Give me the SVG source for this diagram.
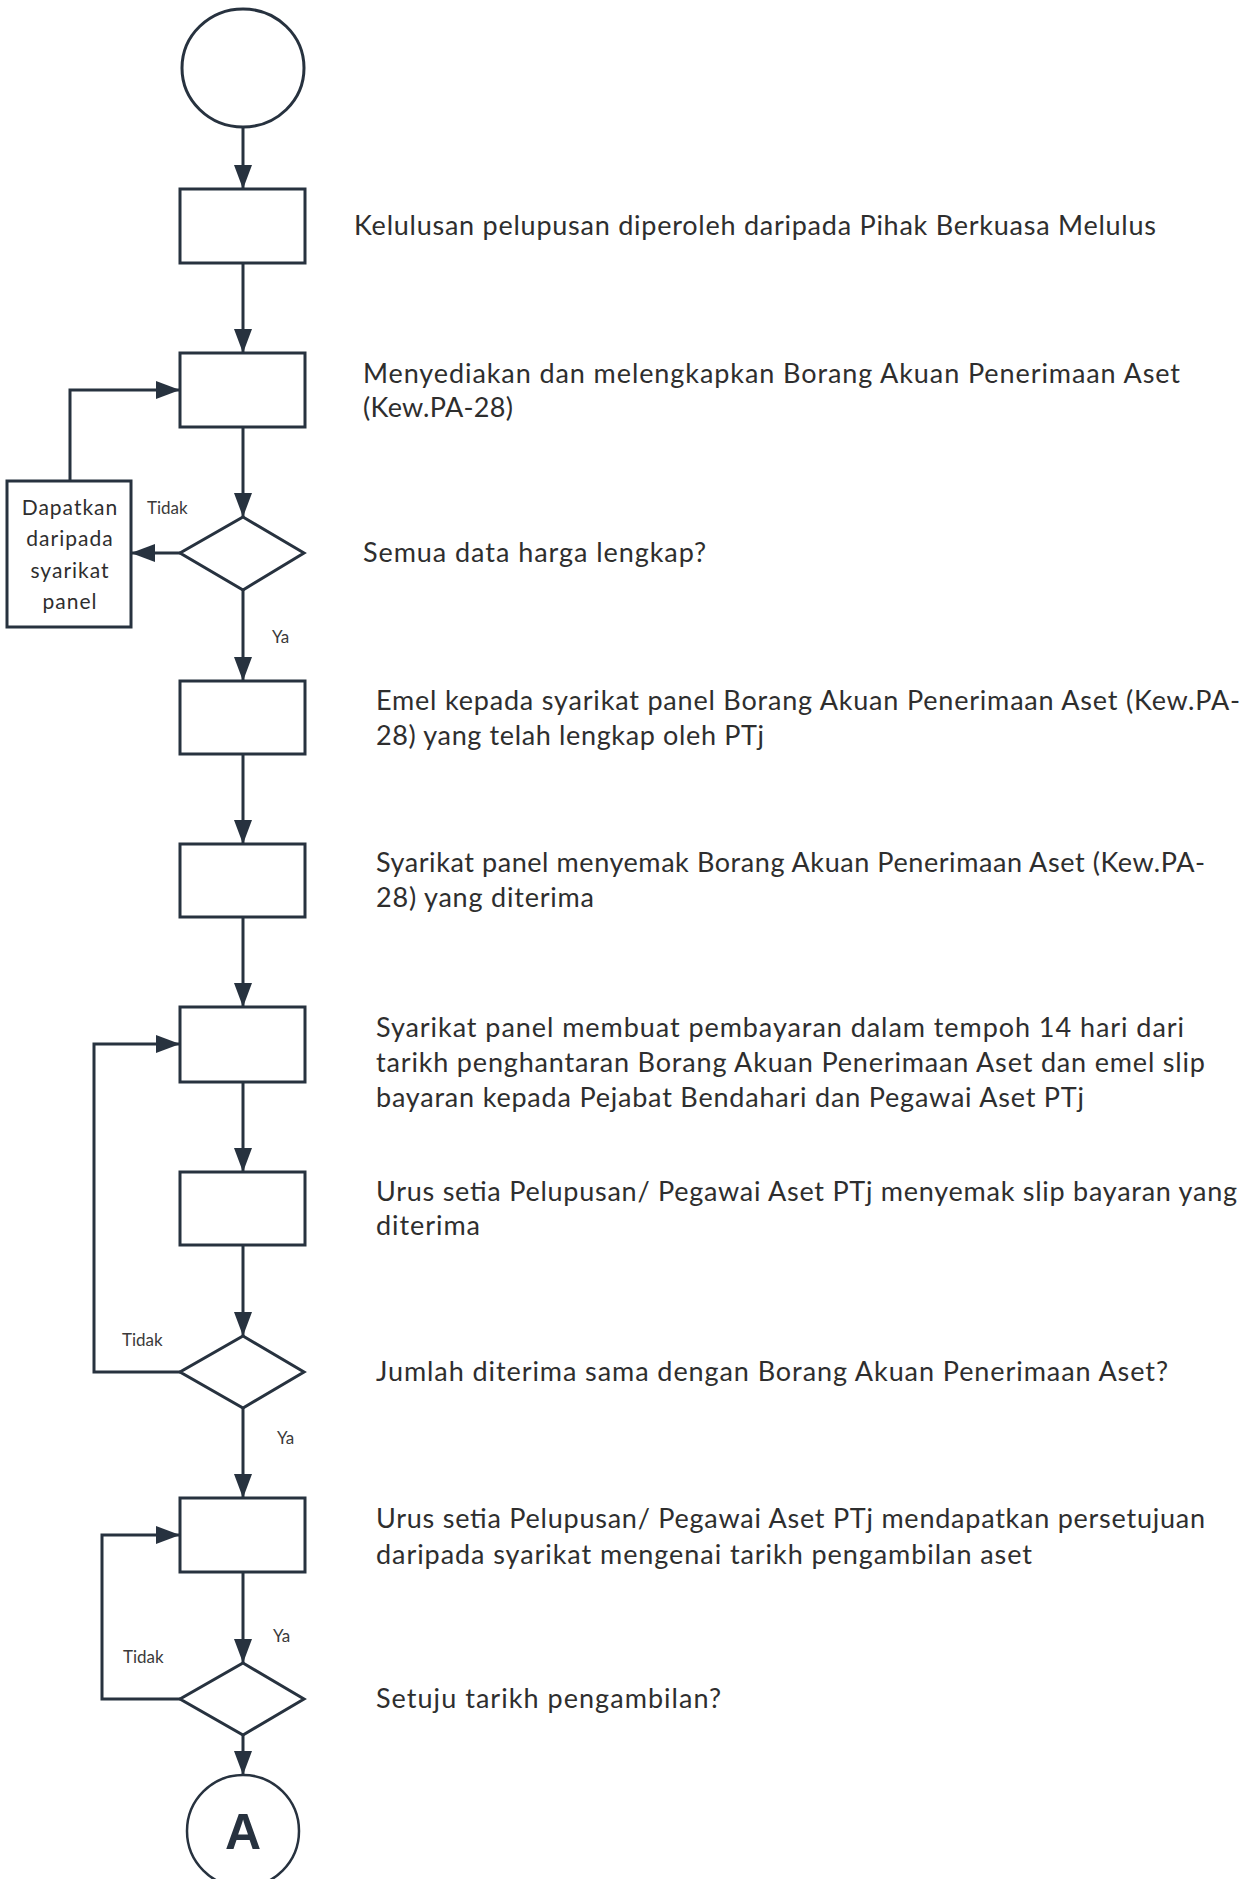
<svg xmlns="http://www.w3.org/2000/svg" width="1245" height="1879" viewBox="0 0 1245 1879">
<style>
.n{fill:#fff;stroke:#27323f;stroke-width:3}
.c{fill:none;stroke:#27323f;stroke-width:3;marker-end:url(#ah)}
.t{font-family:Lato,"Liberation Sans",sans-serif;font-size:27px;fill:#2e2e2e}
.s{font-family:Lato,"Liberation Sans",sans-serif;font-size:17px;fill:#3a3a3a}
.b{font-family:Lato,"Liberation Sans",sans-serif;font-size:21px;fill:#2e2e2e;text-anchor:middle;letter-spacing:1px}
.a{font-family:"Liberation Sans",Arial,sans-serif;font-size:50px;font-weight:bold;fill:#27323f;text-anchor:middle}
</style>
<defs>
<marker id="ah" markerUnits="userSpaceOnUse" markerWidth="24" markerHeight="18" refX="24" refY="9" orient="auto">
<path d="M0,0 L24,9 L0,18 Z" fill="#27323f"/>
</marker>
</defs>
<rect width="1245" height="1879" fill="#fff"/>
<g id="connectors">
<path class="c" d="M243,127 V189"/>
<path class="c" d="M243,263 V353"/>
<path class="c" d="M243,427 V517"/>
<path class="c" d="M243,590 V681"/>
<path class="c" d="M243,754 V844"/>
<path class="c" d="M243,917 V1007"/>
<path class="c" d="M243,1082 V1172"/>
<path class="c" d="M243,1245 V1336"/>
<path class="c" d="M243,1408 V1498"/>
<path class="c" d="M243,1572 V1663"/>
<path class="c" d="M243,1735 V1775"/>
<path class="c" d="M180,553 H131"/>
<path class="c" d="M70,481 V390 H180"/>
<path class="c" d="M180,1372 H94 V1044 H180"/>
<path class="c" d="M180,1699 H102 V1535 H180"/>
<text class="s" x="147" y="514">Tidak</text>
<text class="s" x="272" y="643">Ya</text>
<text class="s" x="122" y="1346">Tidak</text>
<text class="s" x="277" y="1444">Ya</text>
<text class="s" x="273" y="1642">Ya</text>
<text class="s" x="123" y="1663">Tidak</text>
</g>
<g id="start"><ellipse class="n" cx="243" cy="68" rx="61" ry="59"/></g>
<g id="step1"><rect class="n" x="180" y="189" width="125" height="74"/>
<text class="t" x="354" y="235" textLength="802">Kelulusan pelupusan diperoleh daripada Pihak Berkuasa Melulus</text></g>
<g id="step2"><rect class="n" x="180" y="353" width="125" height="74"/>
<text class="t" x="363" y="383" textLength="817">Menyediakan dan melengkapkan Borang Akuan Penerimaan Aset</text>
<text class="t" x="363" y="417" textLength="150">(Kew.PA-28)</text></g>
<g id="decision1"><polygon class="n" points="243,517 304,553 243,590 180,553"/>
<text class="t" x="363" y="562" textLength="343">Semua data harga lengkap?</text></g>
<g id="side"><rect class="n" x="7" y="481" width="124" height="146"/>
<text class="b" x="70" y="515">Dapatkan</text>
<text class="b" x="70" y="546">daripada</text>
<text class="b" x="70" y="578">syarikat</text>
<text class="b" x="70" y="609">panel</text></g>
<g id="step3"><rect class="n" x="180" y="681" width="125" height="73"/>
<text class="t" x="376" y="710" textLength="864">Emel kepada syarikat panel Borang Akuan Penerimaan Aset (Kew.PA-</text>
<text class="t" x="376" y="745" textLength="388">28) yang telah lengkap oleh PTj</text></g>
<g id="step4"><rect class="n" x="180" y="844" width="125" height="73"/>
<text class="t" x="376" y="872" textLength="829">Syarikat panel menyemak Borang Akuan Penerimaan Aset (Kew.PA-</text>
<text class="t" x="376" y="907" textLength="218">28) yang diterima</text></g>
<g id="step5"><rect class="n" x="180" y="1007" width="125" height="75"/>
<text class="t" x="376" y="1037" textLength="808">Syarikat panel membuat pembayaran dalam tempoh 14 hari dari</text>
<text class="t" x="376" y="1072" textLength="829">tarikh penghantaran Borang Akuan Penerimaan Aset dan emel slip</text>
<text class="t" x="376" y="1107" textLength="708">bayaran kepada Pejabat Bendahari dan Pegawai Aset PTj</text></g>
<g id="step6"><rect class="n" x="180" y="1172" width="125" height="73"/>
<text class="t" x="376" y="1201" textLength="861">Urus setia Pelupusan/ Pegawai Aset PTj menyemak slip bayaran yang</text>
<text class="t" x="376" y="1235" textLength="104">diterima</text></g>
<g id="decision2"><polygon class="n" points="243,1336 304,1372 243,1408 180,1372"/>
<text class="t" x="376" y="1381" textLength="792">Jumlah diterima sama dengan Borang Akuan Penerimaan Aset?</text></g>
<g id="step7"><rect class="n" x="180" y="1498" width="125" height="74"/>
<text class="t" x="376" y="1528" textLength="829">Urus setia Pelupusan/ Pegawai Aset PTj mendapatkan persetujuan</text>
<text class="t" x="376" y="1564" textLength="656">daripada syarikat mengenai tarikh pengambilan aset</text></g>
<g id="decision3"><polygon class="n" points="243,1663 304,1699 243,1735 180,1699"/>
<text class="t" x="376" y="1708" textLength="345">Setuju tarikh pengambilan?</text></g>
<g id="connectorA"><circle class="n" cx="243" cy="1831" r="56" style="stroke-width:2.5"/>
<text class="a" x="243" y="1849">A</text></g>
</svg>
